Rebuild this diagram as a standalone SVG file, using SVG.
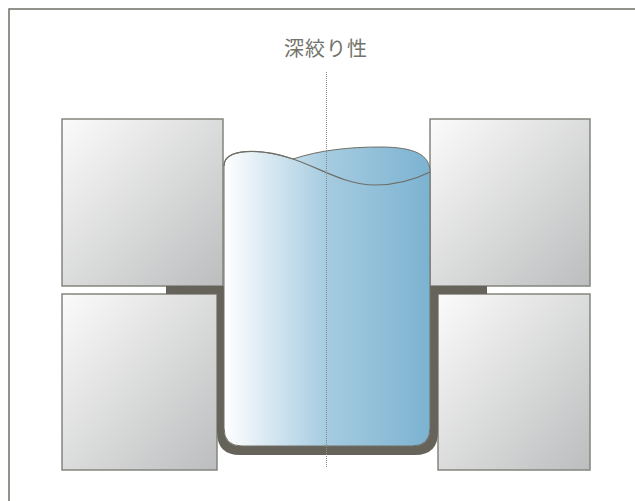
<svg xmlns="http://www.w3.org/2000/svg" width="635" height="501" viewBox="0 0 635 501">
  <defs>
    <linearGradient id="blockGrad" x1="0" y1="0" x2="1" y2="1">
      <stop offset="0" stop-color="#fbfbfb"/>
      <stop offset="1" stop-color="#bcbdbe"/>
    </linearGradient>
    <linearGradient id="punchGrad" x1="224" y1="0" x2="430" y2="0" gradientUnits="userSpaceOnUse">
      <stop offset="0" stop-color="#ffffff"/>
      <stop offset="0.5" stop-color="#a5cbe0"/>
      <stop offset="1" stop-color="#7cb3d1"/>
    </linearGradient>
    <style>
      .frame { fill: none; stroke: #6f6f66; stroke-width: 1.5; }
      .block { fill: url(#blockGrad); stroke: #85857d; stroke-width: 1.5; }
      .sheet { fill: #66645a; }
      .punch { fill: url(#punchGrad); stroke: #6e6e66; stroke-width: 1; }
      .rim { fill: none; stroke: #6e6e66; stroke-width: 1.2; }
      .axis { fill: none; stroke: #8a8a8a; stroke-width: 1; stroke-dasharray: 1 1; }
      .title { font-family: "Noto Sans CJK JP", "Noto Sans CJK SC", sans-serif; font-size: 20px; letter-spacing: 1px; fill: #74746b; }
    </style>
  </defs>

  <!-- outer frame: top and left rules -->
  <path class="frame" d="M9,501 V9 H635"/>

  <text class="title" x="326" y="56" text-anchor="middle">深絞り性</text>

  <!-- blank holder (top) and die (bottom) blocks -->
  <g id="holder-left"><rect class="block" x="62" y="119" width="161" height="167"/></g>
  <g id="die-left"><rect class="block" x="62" y="294" width="155" height="176"/></g>
  <g id="holder-right"><rect class="block" x="430" y="119" width="160" height="167"/></g>
  <g id="die-right"><rect class="block" x="438" y="294" width="152" height="176"/></g>

  <!-- drawn sheet metal cup with flanges -->
  <g id="sheet">
    <path class="sheet" d="M166,286 H224 V428 Q224,446 242,446 H412 Q430,446 430,428 V286 H487 V294 H438 V432 Q438,455 415,455 H240 Q217,455 217,432 V294 H166 Z"/>
  </g>

  <!-- punch -->
  <g id="punch">
    <path class="punch" d="M224,166 C224,148 260,148 293,159 C320,150 350,147 380,147 C415,147 430,155 430,172 V428 Q430,446 412,446 H242 Q224,446 224,428 Z"/>
    <path class="rim" d="M224,166 C224,148 260,148 293,159 C320,168 345,185 375,185 C400,185 420,177 430,172"/>
  </g>

  <!-- centre axis -->
  <g id="connectors">
    <line class="axis" x1="326.5" y1="72" x2="326.5" y2="468"/>
  </g>
</svg>
